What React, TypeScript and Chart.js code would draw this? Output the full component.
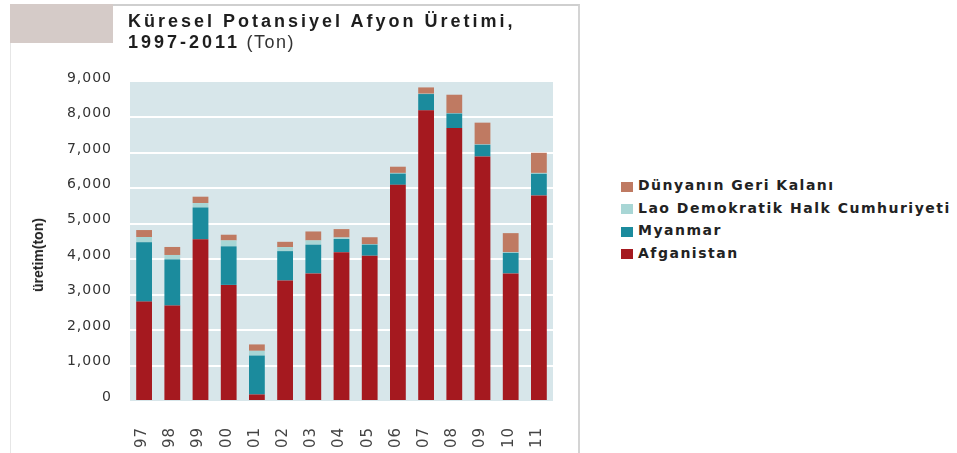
import React, { useEffect, useRef } from "react";
import { Chart, registerables } from "chart.js";

Chart.register(...registerables);

const years = ["97", "98", "99", "00", "01", "02", "03", "04", "05", "06", "07", "08", "09", "10", "11"];
const afganistan = [2804, 2693, 4565, 3276, 185, 3400, 3600, 4200, 4100, 6100, 8200, 7700, 6900, 3600, 5800];
const myanmar = [1676, 1303, 895, 1087, 1097, 828, 810, 370, 312, 315, 460, 410, 330, 580, 610];
const lao = [147, 124, 124, 167, 134, 112, 120, 43, 14, 20, 9, 10, 11, 18, 25];
const dunya = [196, 226, 180, 161, 180, 151, 253, 237, 194, 175, 178, 521, 612, 538, 568];
const yTicks = [0, 1000, 2000, 3000, 4000, 5000, 6000, 7000, 8000, 9000];

const seriesNames = ["Afganistan", "Myanmar", "Lao Demokratik Halk Cumhuriyeti", "Dünyanın Geri Kalanı"];
const seriesColors = ["#a5191f", "#1b8b9d", "#a8d6d5", "#bf7a62"];
const seriesData = [afganistan, myanmar, lao, dunya];

const bgPlugin = {
  id: "plotBg",
  beforeDraw(chart: any) {
    const { ctx, chartArea } = chart;
    ctx.save();
    ctx.fillStyle = "#d7e6ea";
    ctx.fillRect(chartArea.left, chartArea.top, chartArea.right - chartArea.left, chartArea.bottom - chartArea.top);
    ctx.restore();
  },
};

const spacingPlugin = {
  id: "spacing",
  beforeInit(chart: any) {
    chart.ctx.letterSpacing = "1px";
  },
  beforeDraw(chart: any) {
    chart.ctx.letterSpacing = "1px";
  },
};

export default function App() {
  const ref = useRef<HTMLCanvasElement>(null);
  useEffect(() => {
    if (!ref.current) return;
    const chart = new Chart(ref.current, {
      type: "bar",
      data: {
        labels: years,
        datasets: seriesNames.map((n, i) => ({
          label: n,
          data: seriesData[i],
          backgroundColor: seriesColors[i],
          barPercentage: 0.56,
          categoryPercentage: 1,
        })),
      },
      options: {
        responsive: false,
        animation: false,
        layout: { padding: { left: 0, top: 82, right: 47, bottom: 0 } },
        plugins: { legend: { display: false }, tooltip: { enabled: false }, title: { display: false } },
        scales: {
          x: {
            stacked: true,
            grid: { display: false, drawTicks: false },
            border: { display: false },
            ticks: {
              minRotation: 90,
              maxRotation: 90,
              padding: 26,
              labelOffset: -2,
              color: "#444",
              font: { family: "DejaVu Sans", size: 15 },
            },
            afterFit(scale: any) {
              scale.height = 52;
            },
          },
          y: {
            stacked: true,
            min: 0,
            max: 9000,
            afterBuildTicks(scale: any) {
              scale.ticks = yTicks.map((v) => ({ value: v }));
            },
            grid: {
              drawTicks: false,
              lineWidth: 2,
              color: (c: any) => (c.tick && (c.tick.value === 0 || c.tick.value === 9000) ? "rgba(0,0,0,0)" : "#ffffff"),
            },
            border: { display: false },
            ticks: {
              padding: 18,
              labelOffset: -4,
              color: "#333",
              font: { family: "DejaVu Sans", size: 14 },
              callback: (v: any) => Number(v).toLocaleString("en-US"),
            },
            afterFit(scale: any) {
              scale.width = 130;
            },
          },
        },
      },
      plugins: [bgPlugin, spacingPlugin],
    });
    return () => chart.destroy();
  }, []);

  const legendOrder = [3, 2, 1, 0];
  const legendTops = [185, 207.5, 230, 252.5];

  return (
    <div style={{ position: "absolute", left: 0, top: 0, width: 957, height: 453, background: "#fff", overflow: "hidden" }}>
      <div style={{ position: "absolute", left: 10, top: 4, width: 567, height: 460, borderTop: "2px solid #cfcfcf", borderRight: "2px solid #d4d4d4", borderLeft: "1px solid #e6e6e6" }} />
      <div style={{ position: "absolute", left: 10, top: 4, width: 103, height: 39, background: "#d5cbc8" }} />
      <canvas ref={ref} width={600} height={453} style={{ position: "absolute", left: 0, top: 0, width: 600, height: 453 }} />
      <div style={{ position: "absolute", left: 128, top: 11, whiteSpace: "nowrap", fontFamily: "Liberation Sans, Arial, sans-serif", fontSize: 18, lineHeight: "21px", color: "#1e1e1e" }}>
        <div style={{ fontWeight: "bold", letterSpacing: 3 }}>Küresel Potansiyel Afyon Üretimi,</div>
        <div>
          <span style={{ fontWeight: "bold", letterSpacing: 3 }}>1997-2011</span>
          <span style={{ letterSpacing: 1.5, color: "#333" }}> (Ton)</span>
        </div>
      </div>
      <div style={{ position: "absolute", left: 38, top: 255, width: 0, height: 0 }}>
        <div style={{ position: "absolute", left: 0, top: 0, transform: "translate(-50%, -50%) rotate(-90deg)", whiteSpace: "nowrap", fontFamily: "Liberation Sans, Arial, sans-serif", fontWeight: "bold", fontSize: 14, color: "#222" }}>
          üretim(ton)
        </div>
      </div>
      {legendOrder.map((idx, k) => (
        <div key={idx} style={{ position: "absolute", left: 621, top: legendTops[k] - 10, height: 20, display: "flex", alignItems: "center", whiteSpace: "nowrap" }}>
          <span style={{ display: "inline-block", width: 12, height: 10, background: seriesColors[idx], marginRight: 5, marginTop: 3 }} />
          <span style={{ fontFamily: "DejaVu Sans, Verdana, sans-serif", fontWeight: "bold", fontSize: 14, letterSpacing: 1.5, color: "#222" }}>{seriesNames[idx]}</span>
        </div>
      ))}
    </div>
  );
}
